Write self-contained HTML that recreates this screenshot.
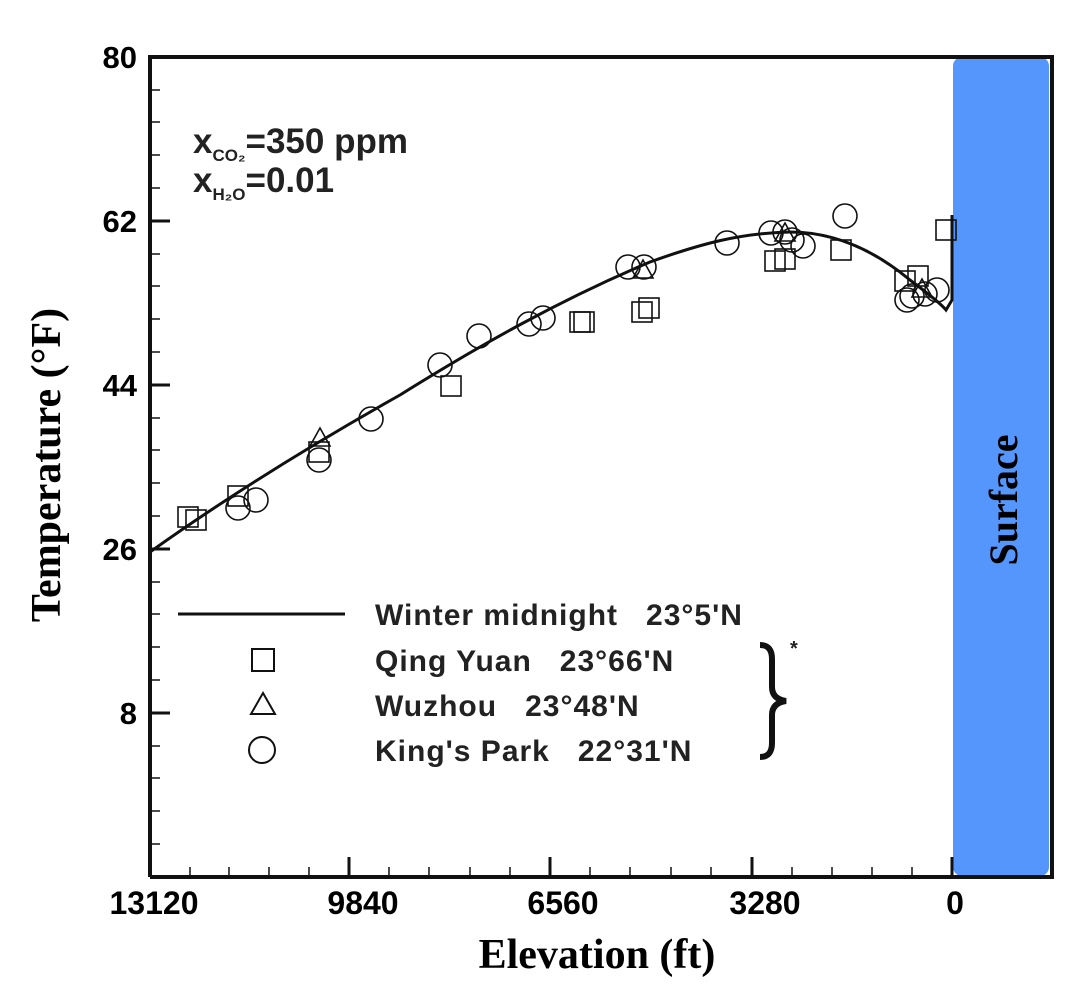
<!DOCTYPE html>
<html><head><style>body{margin:0;background:#fff}svg{display:block}text{white-space:pre}</style></head><body>
<svg width="1079" height="1002" xmlns="http://www.w3.org/2000/svg">
<rect x="953" y="57" width="96" height="819" rx="9" fill="#5496fb"/>
<text transform="translate(1017,500) rotate(-90)" text-anchor="middle" font-family="Liberation Serif" font-weight="bold" font-size="40" fill="#000">Surface</text>
<g stroke="#111" fill="none">
<path d="M150,877 V57 H1052 V877 H150" stroke-width="4"/>
<g stroke-width="3">
<path d="M150,221h20M150,385h20M150,549h20M150,713h20"/>
<path d="M349,877v-20M550,877v-20M752,877v-20M952,877v-20"/>
</g>
<g stroke-width="1.5">
<path d="M150,90h10M150,122h10M150,155h10M150,188h10M150,254h10M150,286h10M150,319h10M150,352h10M150,418h10M150,450h10M150,483h10M150,516h10M150,582h10M150,614h10M150,647h10M150,680h10M150,746h10M150,778h10M150,811h10M150,844h10"/>
<path d="M190,877v-10M229,877v-10M269,877v-10M309,877v-10M389,877v-10M429,877v-10M470,877v-10M510,877v-10M590,877v-10M630,877v-10M671,877v-10M711,877v-10M792,877v-10M832,877v-10M872,877v-10M912,877v-10"/>
</g>
<path d="M150,552 C230,495 320,440 400,395 C480,345 560,300 650,262 C700,244 740,233 790,232 C840,232 880,255 910,280 C930,295 942,305 946,310 L952,300 L952,215" stroke-width="3"/>
<g stroke-width="1.6">
<rect x="178" y="507" width="20" height="20"/><rect x="186" y="510" width="20" height="20"/><rect x="228" y="486" width="20" height="20"/><rect x="309" y="442" width="20" height="20"/><rect x="441" y="376" width="20" height="20"/><rect x="570" y="312" width="20" height="20"/><rect x="574" y="312" width="20" height="20"/><rect x="632" y="302" width="20" height="20"/><rect x="639" y="298" width="20" height="20"/><rect x="765" y="251" width="20" height="20"/><rect x="775" y="249" width="20" height="20"/><rect x="831" y="240" width="20" height="20"/><rect x="895" y="271" width="20" height="20"/><rect x="908" y="266" width="20" height="20"/><rect x="936" y="220" width="20" height="20"/>
<path d="M320,428l10,18h-20z M643,260l10,18h-20z M785,223l10,18h-20z M922,279l10,18h-20z"/>
<circle cx="238" cy="508" r="12"/><circle cx="256" cy="500" r="12"/><circle cx="319" cy="460" r="12"/><circle cx="371" cy="419" r="12"/><circle cx="440" cy="365" r="12"/><circle cx="479" cy="336" r="12"/><circle cx="529" cy="324" r="12"/><circle cx="543" cy="318" r="12"/><circle cx="628" cy="267" r="12"/><circle cx="644" cy="267" r="12"/><circle cx="727" cy="243" r="12"/><circle cx="771" cy="233" r="12"/><circle cx="785" cy="232" r="12"/><circle cx="792" cy="240" r="12"/><circle cx="803" cy="246" r="12"/><circle cx="845" cy="216" r="12"/><circle cx="907" cy="300" r="12"/><circle cx="912" cy="296" r="12"/><circle cx="925" cy="294" r="12"/><circle cx="937" cy="290" r="12"/>
<path d="M178,614H345" stroke-width="3"/>
<rect x="252" y="649" width="22" height="22" stroke-width="2"/>
<path d="M263,693l12,21h-24z" stroke-width="2"/>
<circle cx="262" cy="750" r="13" stroke-width="2"/>
</g>
</g>
<path d="M760,645 q12,0 12,14 v28 q0,12 14,14 q-14,2 -14,14 v28 q0,14 -12,14" stroke="#111" stroke-width="6" fill="none"/>
<g font-family="Liberation Sans" font-weight="bold" font-size="30" fill="#222" letter-spacing="1">
<text x="375" y="625">Winter midnight   23°5'N</text>
<text x="375" y="671">Qing Yuan   23°66'N</text>
<text x="375" y="716">Wuzhou   23°48'N</text>
<text x="375" y="761">King's Park   22°31'N</text>
<text x="790" y="655" font-size="20">*</text>
</g>
<g font-family="Liberation Sans" font-weight="bold" font-size="35" fill="#222">
<text x="193" y="153">x<tspan font-size="17" dy="8">CO₂</tspan><tspan dy="-8">=350 ppm</tspan></text>
<text x="193" y="192">x<tspan font-size="17" dy="8">H₂O</tspan><tspan dy="-8">=0.01</tspan></text>
</g>
<g font-family="Liberation Sans" font-weight="bold" font-size="31" fill="#000" text-anchor="end">
<text x="137" y="68">80</text><text x="137" y="232">62</text><text x="137" y="396">44</text><text x="137" y="560">26</text><text x="137" y="724">8</text>
</g>
<g font-family="Liberation Sans" font-weight="bold" font-size="32" fill="#000" text-anchor="middle">
<text x="154" y="914">13120</text><text x="363" y="914">9840</text><text x="563" y="914">6560</text><text x="765" y="914">3280</text><text x="955" y="914">0</text>
</g>
<text x="597" y="968" text-anchor="middle" font-family="Liberation Serif" font-weight="bold" font-size="42">Elevation (ft)</text>
<text transform="translate(60,465) rotate(-90)" text-anchor="middle" font-family="Liberation Serif" font-weight="bold" font-size="42">Temperature (°F)</text>
</svg>
</body></html>
